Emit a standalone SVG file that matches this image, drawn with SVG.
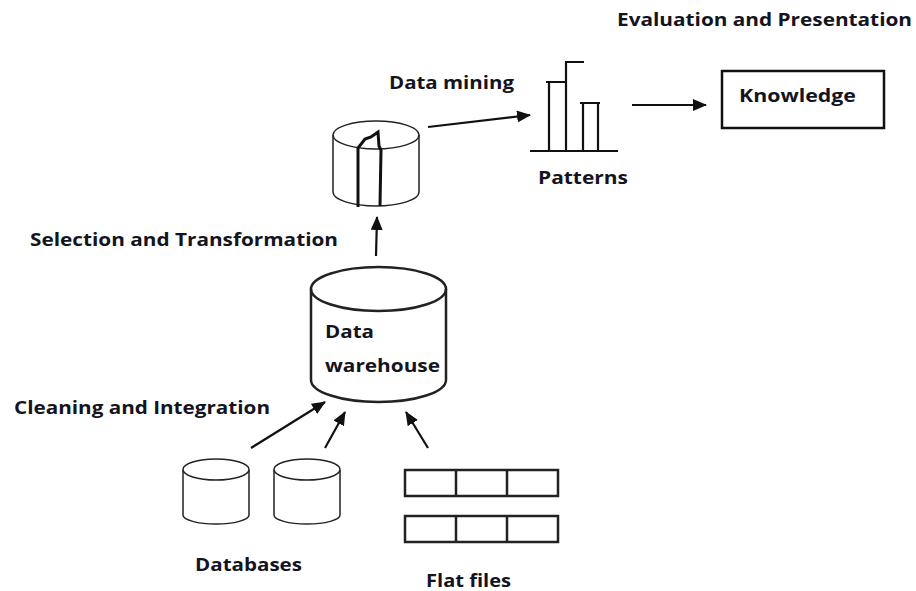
<svg xmlns="http://www.w3.org/2000/svg" width="916" height="591" viewBox="0 0 916 591">
<style>
text{font-family:"Open Sans","Noto Sans","Liberation Sans",sans-serif;font-weight:700;font-size:18px;fill:#14141e}
.c{fill:#fff;stroke:#222;stroke-width:1.5}
.n{fill:none;stroke:#222;stroke-width:1.5}
.b{fill:none;stroke:#111;stroke-width:3}
.t{fill:none;stroke:#222;stroke-width:2.5}
.k{fill:none;stroke:#111;stroke-width:2.2}
.a{fill:none;stroke:#111;stroke-width:2.2;marker-end:url(#ah)}
</style>
<defs><marker id="ah" markerUnits="userSpaceOnUse" markerWidth="14" markerHeight="12" refX="13" refY="6" orient="auto"><path d="M0 0L14 6L0 12Z" fill="#111"/></marker></defs>
<rect width="916" height="591" fill="#fff"/>
<g id="connectors">
<path class="a" d="M428 127L530 115"/>
<path class="a" d="M632 105L706 105"/>
<path class="a" d="M376 256L377 217"/>
<path class="a" d="M251 448L325 402"/>
<path class="a" d="M325 448L345 412"/>
<path class="a" d="M428 448L406 412"/>
</g>
<g id="data-warehouse">
<path class="t" d="M311 289V380A67.500 22 0 0 0 446 380V289"/>
<ellipse class="t" cx="378.500" cy="289" rx="67.500" ry="22"/>
<text x="325" y="338" textLength="49" lengthAdjust="spacingAndGlyphs">Data</text>
<text x="325" y="372" textLength="115" lengthAdjust="spacingAndGlyphs">warehouse</text>
</g>
<g id="transformed-data">
<path class="n" d="M333 135V192A43 14 0 0 0 419 192V135"/>
<ellipse class="n" cx="376" cy="135" rx="43" ry="14"/>
<path class="b" d="M358 207V148L365 139L371 137L378 132L379 146L381 150L380 206"/>
</g>
<g id="patterns">
<path class="k" d="M530 151H618M549 151V82M546 82H566M566 151V62H584M583 151V103M580 103H600M598 103V151"/>
<text x="538" y="184" textLength="90" lengthAdjust="spacingAndGlyphs">Patterns</text>
</g>
<g id="knowledge">
<rect x="722" y="71" width="162" height="57" fill="#fff" stroke="#111" stroke-width="2.500"/>
<text x="739" y="102" textLength="117" lengthAdjust="spacingAndGlyphs">Knowledge</text>
</g>
<g id="database-1">
<path class="n" d="M183 470V515A33 9 0 0 0 249 515V470"/>
<ellipse class="n" cx="216" cy="469.500" rx="33" ry="10.500"/>
</g>
<g id="database-2">
<path class="n" d="M274 470V515A33 9 0 0 0 340 515V470"/>
<ellipse class="n" cx="307" cy="469.500" rx="33" ry="10.500"/>
</g>
<g id="flat-file-1">
<path class="t" d="M405 470H558V496H405ZM456 470V496M507 470V496"/>
</g>
<g id="flat-file-2">
<path class="t" d="M405 516H558V542H405ZM456 516V542M507 516V542"/>
</g>
<g id="labels">
<text x="617" y="26" textLength="295" lengthAdjust="spacingAndGlyphs">Evaluation and Presentation</text>
<text x="389" y="89" textLength="125" lengthAdjust="spacingAndGlyphs">Data mining</text>
<text x="30" y="246" textLength="308" lengthAdjust="spacingAndGlyphs">Selection and Transformation</text>
<text x="14" y="414" textLength="256" lengthAdjust="spacingAndGlyphs">Cleaning and Integration</text>
<text x="195" y="571" textLength="107" lengthAdjust="spacingAndGlyphs">Databases</text>
<text x="426" y="587" textLength="85" lengthAdjust="spacingAndGlyphs">Flat files</text>
</g>
</svg>
